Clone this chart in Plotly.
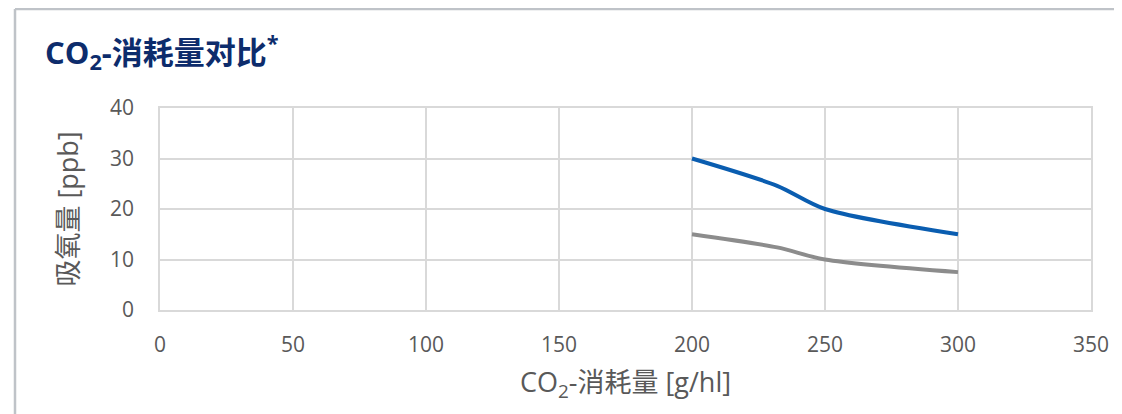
import plotly.graph_objects as go

x_vals = [200, 232, 250, 300]
blue_vals = [30, 24.6, 20, 15]
gray_vals = [15, 12.4, 10, 7.5]
x_ticks = [0, 50, 100, 150, 200, 250, 300, 350]
y_ticks = [0, 10, 20, 30, 40]

FONT = "Open Sans, Noto Sans CJK SC, sans-serif"
W, H = 1122, 414
OFF = 7  # page body offset
ml, mr, mt, mb = 159 - OFF, 39, 107 - OFF, 112
pw, ph = W - ml - mr, H - mt - mb

fig = go.Figure()
fig.add_trace(go.Scatter(x=x_vals, y=blue_vals, mode="lines",
                         line=dict(color="#0A5DB0", width=4, shape="spline", smoothing=0.8),
                         showlegend=False))
fig.add_trace(go.Scatter(x=x_vals, y=gray_vals, mode="lines",
                         line=dict(color="#8C8C8C", width=4, shape="spline", smoothing=0.8),
                         showlegend=False))

grid = "#D9D9D9"
fig.update_layout(
    width=W, height=H,
    margin=dict(l=ml, r=mr, t=mt, b=mb),
    paper_bgcolor="white", plot_bgcolor="white",
    font=dict(family=FONT, color="#595959", size=21),
    title=dict(text="<b>CO<sub>2</sub>-消耗量对比<sup>*</sup></b>",
               font=dict(family=FONT, size=31, color="#0D2C6C"),
               xref="container", x=(44 - OFF) / W, xanchor="left",
               yref="container", y=1 - (52 - OFF) / H, yanchor="middle"),
    xaxis=dict(range=[0, 350], tickvals=x_ticks, showgrid=True, gridcolor=grid, gridwidth=1.5,
               zeroline=False, showline=True, linecolor=grid, linewidth=1.5, mirror=True,
               ticks="", ticklabelstandoff=15, tickfont=dict(size=21, color="#595959"),
               title=dict(text="CO<sub>2</sub>-消耗量 [g/hl]", font=dict(size=27, color="#595959"),
                          standoff=16)),
    yaxis=dict(range=[0, 40], tickvals=y_ticks, showgrid=True, gridcolor=grid, gridwidth=1.5,
               zeroline=False, showline=True, linecolor=grid, linewidth=1.5, mirror=True,
               ticks="", ticklabelstandoff=20, tickfont=dict(size=21, color="#595959"),
               title=dict(text="吸氧量 [ppb]", font=dict(size=27, color="#595959"),
                          standoff=24)),
)

# outer frame (top and left edges)
bc = "#BFC3C8"
top_y = (H - mb - 1) / ph
left_x = (14 - OFF - ml) / pw
fig.add_shape(type="line", xref="paper", yref="paper",
              x0=left_x, x1=(W - ml) / pw, y0=top_y, y1=top_y,
              line=dict(color=bc, width=2.5))
fig.add_shape(type="line", xref="paper", yref="paper",
              x0=left_x, x1=left_x, y0=top_y, y1=-mb / ph,
              line=dict(color=bc, width=2.5))

fig.write_html("out.html")
